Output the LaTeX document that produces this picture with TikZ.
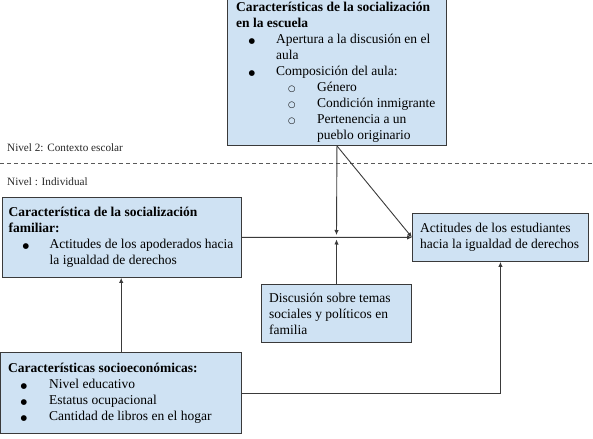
\documentclass[tikz,border=0pt]{standalone}
\usepackage{fontspec}
\setmainfont{Liberation Serif}
\newfontfamily\symfont{DejaVu Sans}
\usetikzlibrary{arrows.meta}
\definecolor{boxfill}{HTML}{CFE2F3}
\definecolor{boxline}{HTML}{3A3A3A}
\definecolor{linec}{HTML}{3A3A3A}
\newcommand{\bulsym}{{\symfont\fontsize{7.5bp}{7.5bp}\selectfont ●}}
\newcommand{\cirsym}{{\symfont\fontsize{8.5bp}{8.5bp}\selectfont ○}}
% #1 symbol, #2 symbol offset, #3 text offset
\newcommand{\sym}[3]{\hspace*{#2}\makebox[\dimexpr#3-#2\relax][l]{#1}}
\begin{document}
\begin{tikzpicture}[x=1bp,y=-1bp,
  box/.style={draw=boxline, fill=boxfill, line width=0.9bp, anchor=north west, inner sep=0pt},
  txt/.style={anchor=west, align=left, inner sep=0pt,
    font=\fontsize{13.5bp}{16bp}\selectfont},
  arr/.style={draw=linec, line width=0.9bp, -{Latex[length=5bp,width=4.5bp]}},
  lvl/.style={anchor=west, inner sep=0pt, font=\fontsize{11.2bp}{13bp}\selectfont, text=black!85},
  sep/.style={draw=black!65, line width=0.9bp, dash pattern=on 4bp off 3bp}]
\useasboundingbox (0,0) rectangle (593,439);

% level labels and separator
\node[lvl] (n2) at (7,148) {Nivel 2: Contexto escolar};
\node[lvl] (n1) at (7,182) {Nivel : Individual};
\coordinate (sepL) at (0,163.5);
\coordinate (sepR) at (593,163.5);
\draw[sep] (sepL) -- (sepR);

% boxes
\node[box, minimum width=219bp, minimum height=147bp] (esc) at (227,-2) {};
\node[txt, xshift=9bp] (esct) at (esc.west)
 {\textbf{Características de la socialización}\\
  \textbf{en la escuela}\\
  \sym{\bulsym}{12.5bp}{40bp}Apertura a la discusión en el\\
  \hspace*{40bp}aula\\
  \sym{\bulsym}{12.5bp}{40bp}Composición del aula:\\
  \sym{\cirsym}{52bp}{81bp}Género\\
  \sym{\cirsym}{52bp}{81bp}Condición inmigrante\\
  \sym{\cirsym}{52bp}{81bp}Pertenencia a un\\
  \hspace*{81bp}pueblo originario};

\node[box, minimum width=239bp, minimum height=80bp] (fam) at (2,197) {};
\node[txt, xshift=6.5bp] (famt) at (fam.west)
 {\textbf{Característica de la socialización}\\
  \textbf{familiar:}\\
  \sym{\bulsym}{14bp}{41bp}Actitudes de los apoderados hacia\\
  \hspace*{41bp}la igualdad de derechos};

\node[box, minimum width=176bp, minimum height=48bp] (stu) at (412,213) {};
\node[txt, xshift=8bp] (stut) at (stu.west)
 {Actitudes de los estudiantes\\hacia la igualdad de derechos};

\node[box, minimum width=150bp, minimum height=58bp] (dis) at (261,284) {};
\node[txt, xshift=8bp] (dist) at (dis.west)
 {Discusión sobre temas\\sociales y políticos en\\familia};

\node[box, minimum width=240.5bp, minimum height=81bp] (soc) at (0.5,352) {};
\node[txt, xshift=7.5bp] (soct) at (soc.west)
 {\textbf{Características socioeconómicas:}\\
  \sym{\bulsym}{12.5bp}{41bp}Nivel educativo\\
  \sym{\bulsym}{12.5bp}{41bp}Estatus ocupacional\\
  \sym{\bulsym}{12.5bp}{41bp}Cantidad de libros en el hogar};

% connectors
\coordinate (jt) at (336.5,235);
\coordinate (jb) at (336.5,239.5);
\draw[arr] (fam.east) -- (stu.west);
\draw[arr] (esc.south) -- (jt);
\draw[arr] (dis.north) -- (jb);
\draw[arr] (esc.south) -- (stu.west);
\draw[arr] (soc.north) -- (soc.north |- fam.south);
\draw[arr] (soc.east) -| (stu.south);
\end{tikzpicture}
\end{document}
